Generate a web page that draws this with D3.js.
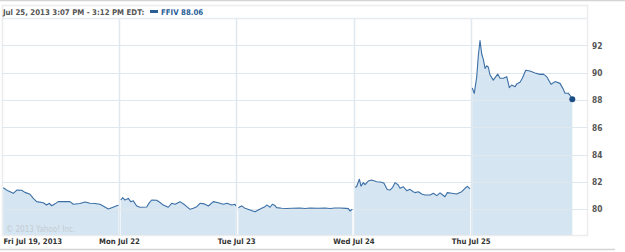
<!DOCTYPE html>
<html>
<head>
<meta charset="utf-8">
<script src="https://cdnjs.cloudflare.com/ajax/libs/d3/7.8.5/d3.min.js"></script>
<style>
  html, body { margin: 0; padding: 0; background: #fff; }
  svg { display: block; }
  text { font-family: "DejaVu Sans Condensed", "DejaVu Sans", sans-serif; }
</style>
</head>
<body>
<script>
// ---- data (positions in trading days from Fri Jul 19 open; prices in USD) ----
const dayLabels = ["Fri Jul 19, 2013", "Mon Jul 22", "Tue Jul 23", "Wed Jul 24", "Thu Jul 25"];
const yTicks = [80, 82, 84, 86, 88, 90, 92];
const headerText = "Jul 25, 2013 3:07 PM - 3:12 PM EDT:";
const seriesLabel = "FFIV 88.06";
const watermark = "\u00a9 2013 Yahoo! Inc.";

const friT = [0.013,0.053,0.099,0.128,0.170,0.198,0.241,0.269,0.298,0.354,0.383,0.406,0.426,0.454,0.482,0.539,0.582,0.610,0.667,0.710,0.753,0.795,0.838,0.872,0.909,0.938,0.980,0.996];
const friP = [81.58,81.35,81.17,81.41,81.39,81.24,81.10,80.80,80.56,80.48,80.31,80.44,80.26,80.40,80.56,80.56,80.56,80.37,80.42,80.53,80.44,80.42,80.37,80.20,80.02,80.12,80.26,80.30];

const monT = [1.015,1.032,1.051,1.079,1.100,1.122,1.151,1.179,1.236,1.256,1.279,1.322,1.350,1.378,1.420,1.449,1.478,1.520,1.563,1.606,1.634,1.663,1.691,1.725,1.762,1.804,1.847,1.890,1.921,1.961,1.989,1.996];
const monP = [80.68,80.85,80.68,80.80,80.56,80.62,80.24,80.15,80.17,80.45,80.68,80.66,80.50,80.31,80.15,80.44,80.37,80.56,80.31,80.00,80.07,80.19,80.44,80.40,80.24,80.56,80.48,80.37,80.44,80.31,80.37,80.24];

const tueT = [2.018,2.032,2.047,2.075,2.117,2.160,2.188,2.217,2.245,2.260,2.273,2.288,2.308,2.326,2.345,2.388,2.430,2.476,2.544,2.586,2.629,2.697,2.757,2.800,2.842,2.885,2.936,2.956,2.970,2.990];
const tueP = [80.12,80.19,80.25,80.07,79.95,79.82,79.95,80.07,80.19,80.31,80.25,80.15,80.37,80.30,80.12,80.08,80.06,80.08,80.10,80.06,80.10,80.08,80.10,80.06,80.10,80.09,80.07,80.05,79.88,80.00];

const wedT = [3.013,3.026,3.050,3.064,3.084,3.098,3.126,3.155,3.198,3.241,3.260,3.288,3.311,3.334,3.354,3.380,3.397,3.425,3.454,3.482,3.510,3.525,3.553,3.582,3.610,3.653,3.681,3.710,3.738,3.761,3.780,3.800,3.838,3.880,3.923,3.951,3.971,3.994];
const wedP = [81.61,81.65,82.20,81.70,81.95,81.80,82.07,82.14,82.02,81.98,81.90,81.45,81.41,81.61,81.95,81.80,81.54,81.65,81.36,81.46,81.29,81.22,81.29,81.12,81.05,81.05,81.17,81.00,81.20,81.05,80.92,81.22,81.17,81.12,81.29,81.54,81.68,81.49];

const thuT = [4.013,4.030,4.051,4.065,4.079,4.094,4.107,4.122,4.136,4.150,4.164,4.192,4.230,4.250,4.278,4.307,4.329,4.349,4.378,4.395,4.420,4.440,4.469,4.505,4.548,4.591,4.619,4.648,4.685,4.719,4.761,4.789,4.804,4.832,4.855,4.866];
const thuP = [88.88,88.49,89.70,91.30,92.36,91.35,91.00,90.32,90.51,90.40,89.85,89.46,89.90,89.59,89.60,89.71,88.90,89.10,88.98,89.20,89.30,89.59,90.18,90.12,89.98,89.88,89.90,89.71,89.15,89.35,89.22,88.80,88.50,88.50,88.24,88.06];

const days = [[friT, friP], [monT, monP], [tueT, tueP], [wedT, wedP], [thuT, thuP]]
  .map(([t, p]) => t.map((d, i) => ({ t: d, p: p[i] })));

// ---- layout ----
const W = 625, H = 252;
const box = { left: 2, right: 588, top: 5, header: 19, bottom: 235 };
const FONT = "'DejaVu Sans Condensed', 'DejaVu Sans', sans-serif";

const svg = d3.select("body").append("svg").attr("width", W).attr("height", H);

const x = d3.scaleLinear().domain([0, 5]).range([1.75, 588]);
const y = d3.scaleLinear().domain([80, 92]).range([209.3, 45.4]);

// top rule
svg.append("line").attr("x1", 0).attr("x2", W).attr("y1", 0.5).attr("y2", 0.5)
  .attr("stroke", "#d4d4d4").attr("stroke-width", 1.5);

// box
svg.append("rect").attr("x", box.left + 0.5).attr("y", box.top + 0.5)
  .attr("width", box.right - box.left - 1).attr("height", box.bottom - box.top)
  .attr("fill", "#fff").attr("stroke", "#ececec").attr("stroke-width", 1.5);
svg.append("line").attr("x1", box.left).attr("x2", box.right)
  .attr("y1", box.header - 0.5).attr("y2", box.header - 0.5)
  .attr("stroke", "#e6ecf2").attr("stroke-width", 1.5);

const plot = svg.append("g");
svg.append("clipPath").attr("id", "clip").append("rect")
  .attr("x", box.left).attr("y", box.header).attr("width", box.right - box.left)
  .attr("height", box.bottom - box.header);

const area = d3.area().x(d => x(d.t)).y0(box.bottom).y1(d => y(d.p));
const line = d3.line().x(d => x(d.t)).y(d => y(d.p));

plot.selectAll("path.area").data(days).join("path").attr("class", "area")
  .attr("d", area).attr("fill", "#d5e5f1").attr("clip-path", "url(#clip)");

// horizontal grid
plot.selectAll("line.hg").data(yTicks).join("line").attr("class", "hg")
  .attr("x1", box.left).attr("x2", box.right)
  .attr("y1", d => Math.round(y(d)) + 0.5).attr("y2", d => Math.round(y(d)) + 0.5)
  .attr("stroke", "#dfe7ef").attr("stroke-width", 1);

// vertical grid at day boundaries
plot.selectAll("line.vg").data(d3.range(1, 5)).join("line").attr("class", "vg")
  .attr("x1", d => Math.round(x(d)) + 0.5).attr("x2", d => Math.round(x(d)) + 0.5)
  .attr("y1", box.header).attr("y2", box.bottom)
  .attr("stroke", "#dfe7ef").attr("stroke-width", 1.5);

// lines
plot.selectAll("path.line").data(days).join("path").attr("class", "line")
  .attr("d", line).attr("fill", "none").attr("stroke", "#3c6fa6")
  .attr("stroke-width", 1.1).attr("stroke-linejoin", "round");

// end dot
const last = days[4][days[4].length - 1];
svg.append("circle").attr("cx", x(last.t)).attr("cy", y(last.p)).attr("r", 3)
  .attr("fill", "#1d4f86");

// watermark
svg.append("text").attr("x", 6).attr("y", 232).text(watermark)
  .attr("font-size", 8).attr("fill", "#c4ccd4");

// right axis
const yAxis = d3.axisRight(y).tickValues(yTicks).tickSize(0).tickPadding(4)
  .tickFormat(d3.format("d"));
const ya = svg.append("g").attr("transform", `translate(${box.right},0)`).call(yAxis);
ya.select(".domain").remove();
ya.selectAll("text").attr("font-size", 8.3).attr("font-weight", "bold")
  .attr("fill", "#555").attr("font-family", FONT);

// bottom axis labels
const xAxis = d3.axisBottom(x).tickValues(d3.range(0, 5)).tickSize(0).tickPadding(3)
  .tickFormat((d, i) => dayLabels[i]);
const xa = svg.append("g").attr("transform", `translate(0,${box.bottom + 1})`).call(xAxis);
xa.select(".domain").remove();
xa.selectAll("text").attr("font-size", 7.7).attr("font-weight", "bold")
  .attr("fill", "#333").attr("font-family", FONT);
xa.selectAll(".tick").filter(d => d === 0).select("text")
  .attr("text-anchor", "start").attr("x", 1.25);

// bottom rule
svg.append("line").attr("x1", 0).attr("x2", W - 10).attr("y1", 249.5).attr("y2", 249.5)
  .attr("stroke", "#d4d4d4").attr("stroke-width", 1.5);

// header
svg.append("text").attr("x", 3).attr("y", 15).text(headerText)
  .attr("font-size", 7.8).attr("font-weight", "bold").attr("fill", "#555");
svg.append("rect").attr("x", 150).attr("y", 10).attr("width", 8).attr("height", 3)
  .attr("fill", "#2a5f9a");
svg.append("text").attr("x", 161).attr("y", 15).text(seriesLabel)
  .attr("font-size", 7.8).attr("font-weight", "bold").attr("fill", "#2a5f9a");
</script>
</body>
</html>
